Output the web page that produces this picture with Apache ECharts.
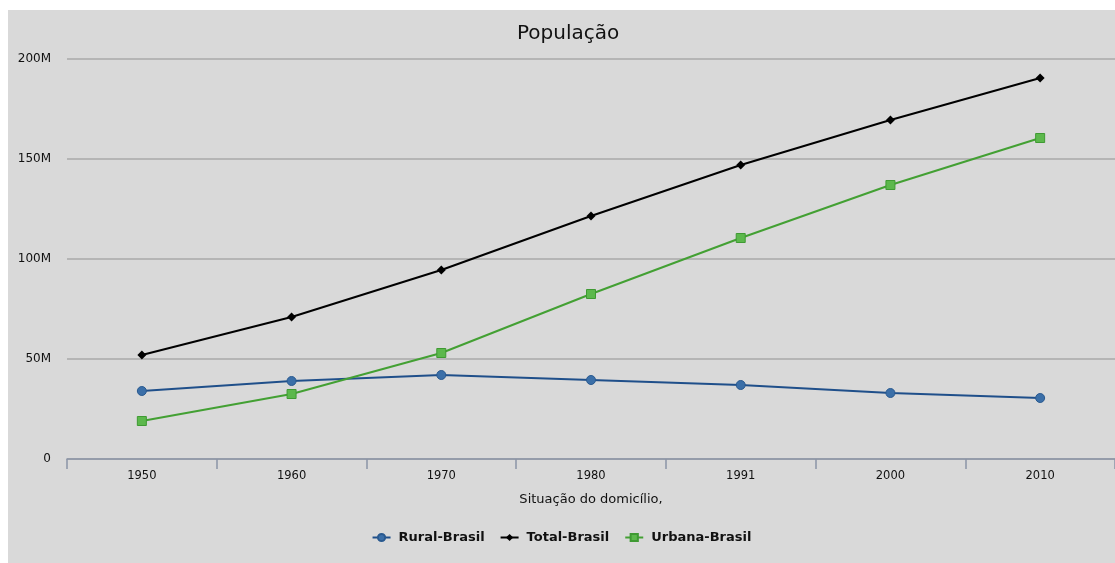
<!DOCTYPE html>
<html><head><meta charset="utf-8">
<script src="https://cdn.jsdelivr.net/npm/echarts@6/dist/echarts.min.js"></script>
<style>
html,body{margin:0;padding:0;background:#fff;width:1115px;height:563px;overflow:hidden}
#c{position:absolute;left:8px;top:10px;width:1107px;height:553px;background:#d9d9d9}
</style></head><body>
<div id="c"></div>
<script>
const categories = ['1950','1960','1970','1980','1991','2000','2010'];
const rural = [34.0, 39.0, 42.0, 39.5, 37.0, 33.0, 30.5];
const total = [52.0, 71.0, 94.5, 121.5, 147.0, 169.5, 190.5];
const urbana = [19.0, 32.5, 53.0, 82.5, 110.5, 137.0, 160.5];
const M = 1e6;
const font = 'DejaVu Sans';
const chart = echarts.init(document.getElementById('c'));
chart.setOption({
  backgroundColor: '#d9d9d9',
  animation: false,
  title: {text: 'População', left: 504, top: 9, textStyle: {fontFamily: font, fontWeight: 'normal', fontSize: 20, color: '#111'}},
  grid: {left: 59, top: 49, width: 1052, height: 400, containLabel: false},
  legend: {bottom: 14, left: 'center', itemGap: 15, itemWidth: 18, itemHeight: 9,
    textStyle: {fontFamily: font, fontWeight: 'bold', fontSize: 13, color: '#111', padding: [0,0,0,3]},
    data: ['Rural-Brasil','Total-Brasil','Urbana-Brasil']},
  xAxis: {type: 'category', data: categories, boundaryGap: true,
    name: 'Situação do domicílio,', nameLocation: 'middle', nameGap: 34,
    nameTextStyle: {fontFamily: font, fontSize: 13, color: '#111'},
    axisLine: {lineStyle: {color: '#8a94a6', width: 1.5}},
    axisTick: {show: true, length: 10, lineStyle: {color: '#8a94a6', width: 1.5}},
    axisLabel: {fontFamily: font, fontSize: 11.5, color: '#111', margin: 11}},
  yAxis: {type: 'value', min: 0, max: 200*M, interval: 50*M,
    axisLine: {show: false}, axisTick: {show: false},
    axisLabel: {fontFamily: font, fontSize: 12, color: '#111', margin: 16,
      formatter: v => v === 0 ? '0' : (v/M) + 'M'},
    splitLine: {lineStyle: {color: '#a9a9a9', width: 1.5}}},
  series: [
    {name: 'Rural-Brasil', type: 'line', data: rural.map(v => v*M), symbol: 'circle', symbolSize: 9,
      lineStyle: {color: '#1f4f8a', width: 2}, itemStyle: {color: '#3b6fa8', borderColor: '#2a5a90', borderWidth: 1}},
    {name: 'Total-Brasil', type: 'line', data: total.map(v => v*M), symbol: 'diamond', symbolSize: 9,
      lineStyle: {color: '#000', width: 2}, itemStyle: {color: '#000'}},
    {name: 'Urbana-Brasil', type: 'line', data: urbana.map(v => v*M), symbol: 'rect', symbolSize: 9,
      lineStyle: {color: '#43a033', width: 2}, itemStyle: {color: '#5cb84c', borderColor: '#3f9a33', borderWidth: 1}}
  ]
});
</script></body></html>
